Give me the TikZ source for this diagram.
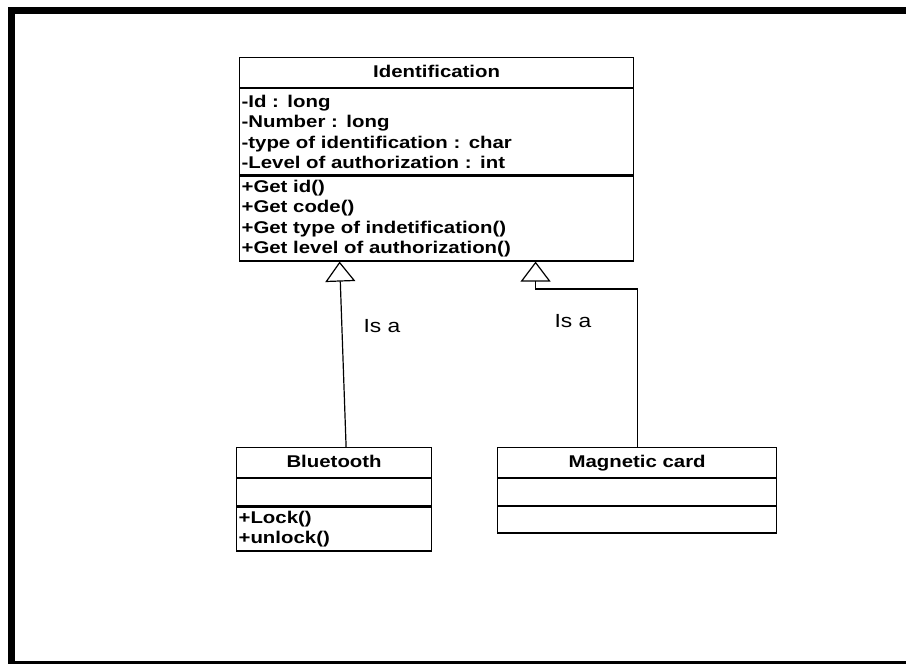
\documentclass[tikz,border=0pt]{standalone}
\usepackage{fontspec}
\setmainfont{Liberation Sans}
% widened sans face used for all diagram text
\newfontfamily\umlfont[FakeStretch=1.2]{Liberation Sans}
\usetikzlibrary{arrows.meta}

\begin{document}
\begin{tikzpicture}[x=1pt,y=-1pt,
  compart/.style={draw=black, line width=1.2pt, inner xsep=2pt, inner ysep=0pt,
    anchor=north west, align=left,
    font=\umlfont\bfseries\fontsize{17}{20.4}\selectfont},
  header/.style={compart, align=center, minimum height=30pt,
    text height=12.5pt, text depth=3.6pt},
  gen/.style={draw=black, line width=1.2pt,
    -{Triangle[open, width=30pt, length=20pt]}},
  lbl/.style={font=\umlfont\fontsize{19}{22}\selectfont, inner sep=0pt}
]
\useasboundingbox (0,0) rectangle (906,664);
\clip (0,0) rectangle (906,664);

% outer frame
\draw[line width=7.3pt] (11.3,10.5) rectangle (915,664.2);

% class Identification
\node[header, text width=390pt] (idHead) at (239,57) {Identification};
\node[compart, text width=390pt, minimum height=86pt] (idAttr) at (idHead.south west)
  {-Id : long\\-Number : long\\-type of identification : char\\-Level of authorization : int};
\node[compart, text width=390pt, minimum height=85pt] (idOps) at (idAttr.south west)
  {+Get id()\\+Get code()\\+Get type of indetification()\\+Get level of authorization()};

% class Bluetooth
\node[header, text width=191pt] (btHead) at (236,447) {Bluetooth};
\node[compart, text width=191pt, minimum height=27pt] (btAttr) at (btHead.south west) {};
\node[compart, text width=191pt, minimum height=44pt] (btOps) at (btAttr.south west)
  {+Lock()\\+unlock()};

% class Magnetic card
\node[header, text width=275pt] (mcHead) at (497,447) {Magnetic card};
\node[compart, text width=275pt, minimum height=26.5pt] (mcAttr) at (mcHead.south west) {};
\node[compart, text width=275pt, minimum height=26.5pt] (mcOps) at (mcAttr.south west) {};

% generalizations
\draw[gen] ([xshift=12pt]btHead.north) -- ([xshift=-97pt]idOps.south);
\draw[gen] (mcHead.north) -- ++(0,-158) -| ([xshift=99pt]idOps.south);

\node[lbl] (isA1) at (382,326) {Is a};
\node[lbl] (isA2) at (573,321) {Is a};
\end{tikzpicture}
\end{document}
